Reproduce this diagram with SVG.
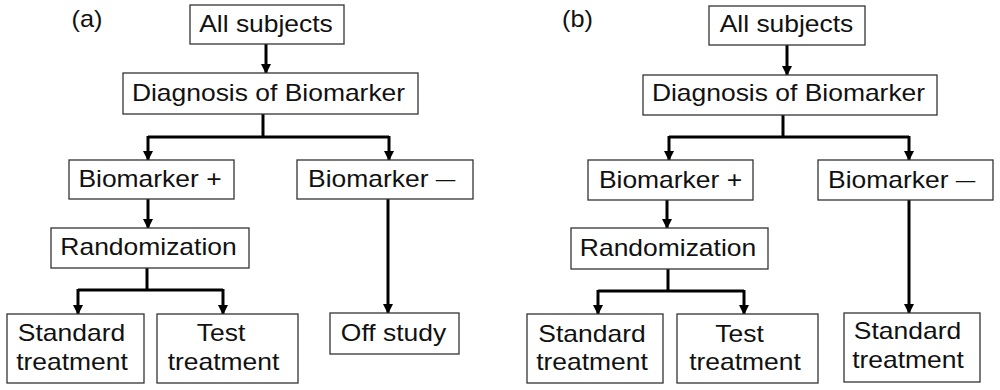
<svg xmlns="http://www.w3.org/2000/svg" width="1000" height="390" viewBox="0 0 1000 390">
<defs>
<style>
.box{fill:#fff;stroke:#333;stroke-width:1.3}
.t{font-family:"Liberation Sans",Arial,sans-serif;font-size:23px;fill:#111;text-anchor:middle}
.ts{text-anchor:start}
.c{fill:none;stroke:#000;stroke-width:3}
.ca{fill:none;stroke:#000;stroke-width:3;marker-end:url(#ah)}
</style>
<marker id="ah" markerUnits="userSpaceOnUse" markerWidth="10" markerHeight="10" refX="9" refY="5" orient="auto" viewBox="0 0 10 10">
<path d="M0,0 L10,5 L0,10 z" fill="#000"/>
</marker>
</defs>
<rect width="1000" height="390" fill="#fff"/>

<g id="connectors">
<!-- panel a -->
<line class="ca" x1="266" y1="44" x2="266" y2="73"/>
<line class="c" x1="263" y1="114" x2="263" y2="137"/>
<line class="c" x1="148" y1="137" x2="389" y2="137"/>
<line class="ca" x1="148" y1="136" x2="148" y2="160"/>
<line class="ca" x1="389" y1="136" x2="389" y2="160"/>
<line class="ca" x1="148" y1="199" x2="148" y2="228"/>
<line class="c" x1="147" y1="268" x2="147" y2="290"/>
<line class="c" x1="78" y1="290" x2="223" y2="290"/>
<line class="ca" x1="78" y1="289" x2="78" y2="314"/>
<line class="ca" x1="223" y1="289" x2="223" y2="314"/>
<line class="ca" x1="388" y1="199" x2="388" y2="313"/>
<!-- panel b -->
<line class="ca" x1="787" y1="45" x2="787" y2="75"/>
<line class="c" x1="783" y1="115" x2="783" y2="137"/>
<line class="c" x1="669" y1="137" x2="909" y2="137"/>
<line class="ca" x1="669" y1="136" x2="669" y2="160"/>
<line class="ca" x1="909" y1="136" x2="909" y2="160"/>
<line class="ca" x1="667" y1="200" x2="667" y2="228"/>
<line class="c" x1="668" y1="269" x2="668" y2="291"/>
<line class="c" x1="598" y1="291" x2="744" y2="291"/>
<line class="ca" x1="598" y1="290" x2="598" y2="314"/>
<line class="ca" x1="744" y1="290" x2="744" y2="314"/>
<line class="ca" x1="909" y1="200" x2="909" y2="313"/>
</g>

<g id="label-a"><text class="t" transform="translate(87,27) scale(1.1,1)">(a)</text></g>
<g id="a-all"><rect class="box" x="190" y="5" width="154" height="39"/><text class="t" transform="translate(266,32) scale(1.15,1)">All subjects</text></g>
<g id="a-diag"><rect class="box" x="123" y="73" width="295" height="41"/><text class="t" transform="translate(268.5,101) scale(1.15,1)">Diagnosis of Biomarker</text></g>
<g id="a-pos"><rect class="box" x="69" y="160" width="165" height="39"/><text class="t" transform="translate(150,187) scale(1.15,1)">Biomarker +</text></g>
<g id="a-neg"><rect class="box" x="297" y="160" width="176" height="39"/><text class="t ts" transform="translate(308,187) scale(1.15,1)">Biomarker <tspan font-size="17" dy="-2">—</tspan></text></g>
<g id="a-rand"><rect class="box" x="51" y="228" width="198" height="40"/><text class="t" transform="translate(148.5,255) scale(1.15,1)">Randomization</text></g>
<g id="a-std"><rect class="box" x="7" y="314" width="137" height="69"/><text class="t" transform="translate(71.5,341) scale(1.15,1)">Standard</text><text class="t" transform="translate(72,370) scale(1.15,1)">treatment</text></g>
<g id="a-test"><rect class="box" x="157" y="314" width="141" height="69"/><text class="t" transform="translate(221,341) scale(1.15,1)">Test</text><text class="t" transform="translate(223.5,370) scale(1.15,1)">treatment</text></g>
<g id="a-off"><rect class="box" x="330" y="313" width="129" height="41"/><text class="t" transform="translate(393.5,341) scale(1.15,1)">Off study</text></g>

<g id="label-b"><text class="t" transform="translate(577.5,27) scale(1.1,1)">(b)</text></g>
<g id="b-all"><rect class="box" x="709" y="6" width="156" height="39"/><text class="t" transform="translate(786.5,32) scale(1.15,1)">All subjects</text></g>
<g id="b-diag"><rect class="box" x="643" y="75" width="294" height="40"/><text class="t" transform="translate(788.5,101) scale(1.15,1)">Diagnosis of Biomarker</text></g>
<g id="b-pos"><rect class="box" x="588" y="160" width="165" height="40"/><text class="t" transform="translate(670.5,188) scale(1.15,1)">Biomarker +</text></g>
<g id="b-neg"><rect class="box" x="818" y="160" width="175" height="40"/><text class="t ts" transform="translate(828,188) scale(1.15,1)">Biomarker <tspan font-size="17" dy="-2">—</tspan></text></g>
<g id="b-rand"><rect class="box" x="571" y="228" width="197" height="41"/><text class="t" transform="translate(668,256) scale(1.15,1)">Randomization</text></g>
<g id="b-std"><rect class="box" x="527" y="314" width="136" height="69"/><text class="t" transform="translate(592,342) scale(1.15,1)">Standard</text><text class="t" transform="translate(592,370) scale(1.15,1)">treatment</text></g>
<g id="b-test"><rect class="box" x="677" y="314" width="141" height="69"/><text class="t" transform="translate(739.5,342) scale(1.15,1)">Test</text><text class="t" transform="translate(745,370) scale(1.15,1)">treatment</text></g>
<g id="b-std2"><rect class="box" x="844" y="313" width="136" height="69"/><text class="t" transform="translate(907.5,339) scale(1.15,1)">Standard</text><text class="t" transform="translate(908,368) scale(1.15,1)">treatment</text></g>
</svg>
